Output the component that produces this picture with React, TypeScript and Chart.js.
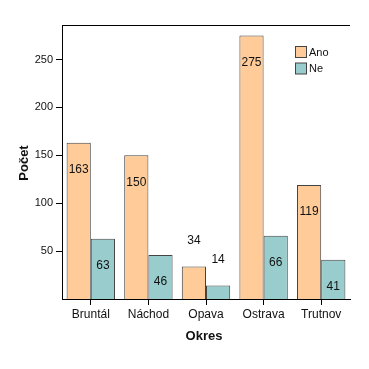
import React, { useEffect, useRef } from "react";
import { Chart, registerables } from "chart.js";

Chart.register(...registerables);

const categories = ["Bruntál", "Náchod", "Opava", "Ostrava", "Trutnov"];
const seriesNames = ["Ano", "Ne"];
const anoValues = [163, 150, 34, 275, 119];
const neValues = [63, 46, 14, 66, 41];
const yTicks = [50, 100, 150, 200, 250];
const xTitle = "Okres";
const yTitle = "Počet";

const FILLS = ["#FFCC99", "#99CCCC"];
const BORDER = "#444444";
const FONT = "'Liberation Sans', Arial, sans-serif";

const extrasPlugin = {
  id: "extras",
  afterDatasetsDraw(chart: any) {
    const ctx = chart.ctx;
    const area = chart.chartArea;
    ctx.save();
    // top border
    ctx.strokeStyle = "#000";
    ctx.lineWidth = 1;
    ctx.beginPath();
    ctx.moveTo(area.left, area.top + 0.5);
    ctx.lineTo(area.right, area.top + 0.5);
    ctx.stroke();
    // data labels
    ctx.font = `12px ${FONT}`;
    ctx.fillStyle = "#111";
    ctx.textAlign = "center";
    ctx.textBaseline = "middle";
    chart.data.datasets.forEach((ds: any, di: number) => {
      const meta = chart.getDatasetMeta(di);
      meta.data.forEach((bar: any, i: number) => {
        const v = ds.data[i];
        const h = bar.base - bar.y;
        const y = h > 36 ? bar.y + 27 : bar.y - 26;
        ctx.fillText(String(v), bar.x, y);
      });
    });
    // legend
    ctx.font = `11px ${FONT}`;
    ctx.textAlign = "left";
    seriesNames.forEach((name, i) => {
      const bx = 295.5;
      const by = 46.5 + i * 16.5;
      ctx.fillStyle = FILLS[i];
      ctx.fillRect(bx, by, 11, 11);
      ctx.strokeStyle = BORDER;
      ctx.strokeRect(bx, by, 11, 11);
      ctx.fillStyle = "#111";
      ctx.fillText(name, 309, by + 6);
    });
    // axis titles
    ctx.font = `bold 13px ${FONT}`;
    ctx.fillStyle = "#111";
    ctx.textAlign = "center";
    ctx.fillText(xTitle, 204, 336);
    ctx.translate(24, 163);
    ctx.rotate(-Math.PI / 2);
    ctx.fillText(yTitle, 0, 0);
    ctx.restore();
  },
};

export default function App() {
  const ref = useRef<HTMLCanvasElement>(null);
  useEffect(() => {
    document.body.style.margin = "0";
    const chart = new Chart(ref.current!, {
      type: "bar",
      data: {
        labels: categories,
        datasets: [
          { label: seriesNames[0], data: anoValues, backgroundColor: FILLS[0], borderColor: BORDER, borderWidth: 1 },
          { label: seriesNames[1], data: neValues, backgroundColor: FILLS[1], borderColor: BORDER, borderWidth: 1 },
        ],
      },
      options: {
        animation: false,
        responsive: false,
        maintainAspectRatio: false,
        layout: { padding: { left: 0, top: 25, right: 19, bottom: 0 } },
        datasets: { bar: { categoryPercentage: 0.84, barPercentage: 1 } },
        plugins: { legend: { display: false }, tooltip: { enabled: false } },
        scales: {
          x: {
            afterFit: (s: any) => { s.height = 70; },
            grid: { display: true, drawOnChartArea: false, drawTicks: true, tickLength: 6, color: "#000", offset: false },
            border: { display: true, color: "#000" },
            ticks: { color: "#111", font: { family: FONT, size: 12 }, padding: 2 },
          },
          y: {
            min: 0,
            max: 286,
            afterFit: (s: any) => { s.width = 62; },
            afterBuildTicks: (s: any) => { s.ticks = yTicks.map((v) => ({ value: v })); },
            grid: { display: true, drawOnChartArea: false, drawTicks: true, tickLength: 6, color: "#000" },
            border: { display: true, color: "#000" },
            ticks: { color: "#111", font: { family: FONT, size: 11 }, padding: 3 },
          },
        },
      },
      plugins: [extrasPlugin],
    });
    return () => chart.destroy();
  }, []);
  return (
    <div style={{ width: 369, height: 369 }}>
      <canvas ref={ref} width={369} height={369} style={{ display: "block" }} />
    </div>
  );
}
